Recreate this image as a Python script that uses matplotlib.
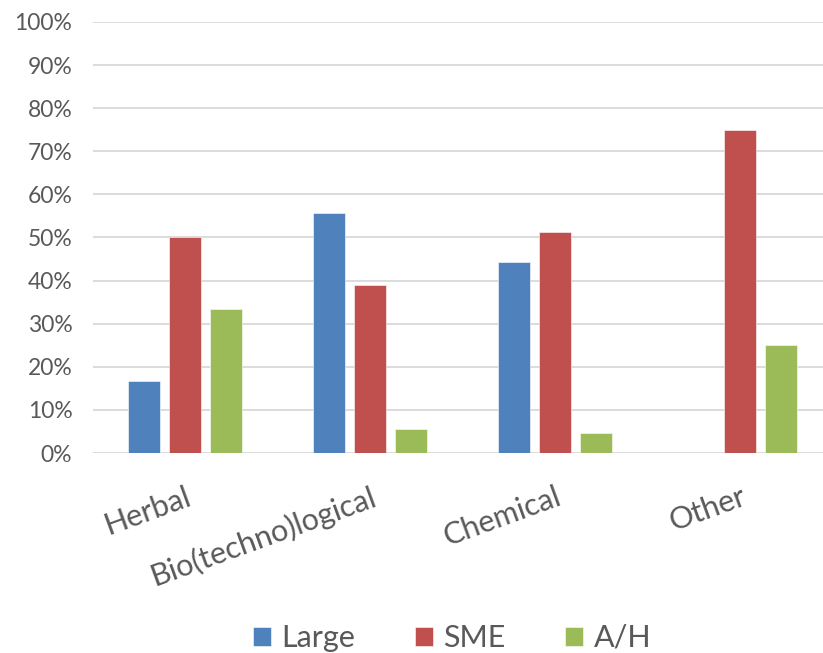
import matplotlib
matplotlib.use("Agg")
import matplotlib.pyplot as plt
import numpy as np

categories = ["Herbal", "Bio(techno)logical", "Chemical", "Other"]
series_names = ["Large", "SME", "A/H"]
large = [16.7, 55.6, 44.2, 0.0]
sme = [50.0, 38.9, 51.2, 75.0]
ah = [33.3, 5.6, 4.7, 25.0]
y_ticks = [0, 10, 20, 30, 40, 50, 60, 70, 80, 90, 100]
y_tick_labels = [f"{t}%" for t in y_ticks]

colors = ["#4F81BD", "#C0504D", "#9BBB59"]
text_color = "#595959"

plt.rcParams["font.family"] = ["Lato", "DejaVu Sans"]

W, H = 823, 653
fig = plt.figure(figsize=(W / 100, H / 100), dpi=100)

# Plot area runs slightly past the right edge of the canvas
left_px, right_px, top_px, bottom_px = 92.5, 832.5, 22, 453
ax = fig.add_axes([left_px / W, 1 - bottom_px / H,
                   (right_px - left_px) / W, (bottom_px - top_px) / H])

x = np.arange(len(categories))
step = 0.2216
width = 0.176
handles = []
for i, (vals, name) in enumerate(zip([large, sme, ah], series_names)):
    b = ax.bar(x + (i - 1) * step, vals, width=width, color=colors[i],
               edgecolor="white", linewidth=0.4, label=name, zorder=3)
    handles.append(b)

ax.set_xlim(-0.5, len(categories) - 0.5)
ax.set_ylim(0, 100)
ax.set_yticks(y_ticks)
ax.set_yticklabels(y_tick_labels, fontsize=16.5, color=text_color)
ax.yaxis.grid(True, color="#d9d9d9", linewidth=1.3, zorder=0)
ax.set_axisbelow(True)
ax.tick_params(axis="y", length=0, pad=14.5)
ax.tick_params(axis="x", length=0, pad=21)
ax.set_xticks(x)
ax.set_xticklabels(categories, fontsize=22, color=text_color,
                   rotation=20, ha="right", va="top", rotation_mode="anchor")
for s in ax.spines.values():
    s.set_visible(False)

fig.legend(handles=handles, labels=series_names, loc="center",
           bbox_to_anchor=(452 / W, 1 - 638 / H), ncol=3, frameon=False,
           fontsize=22, handlelength=0.58, handleheight=0.58,
           handletextpad=0.35, columnspacing=1.95, labelcolor=text_color,
           borderpad=0, borderaxespad=0)

fig.savefig("out.png", dpi=100)
